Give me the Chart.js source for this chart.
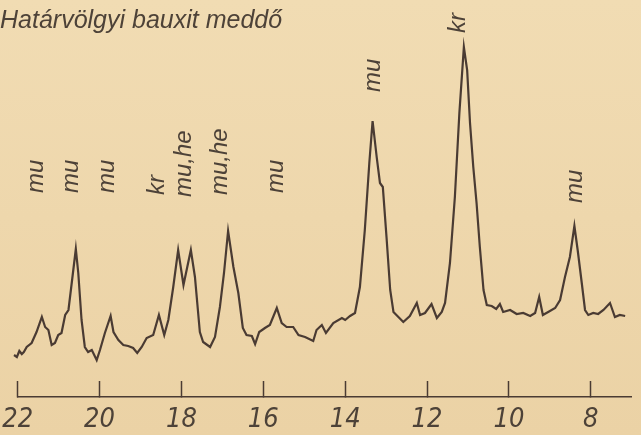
<!DOCTYPE html>
<html>
<head>
<meta charset="utf-8">
<script src="https://cdn.jsdelivr.net/npm/chart.js@4.4.1/dist/chart.umd.min.js"></script>
<style>
  html, body { margin: 0; padding: 0; background: #eed8ad; }
  canvas { display: block; }
</style>
</head>
<body>
<canvas id="c" width="641" height="435"></canvas>
<script>
// 2θ positions (degrees)
const twoTheta = [22.09,22.02,21.96,21.90,21.85,21.78,21.66,21.54,21.41,21.33,21.25,21.17,21.09,21.01,20.93,20.84,20.76,20.68,20.58,20.52,20.44,20.36,20.28,20.19,20.07,19.99,19.87,19.73,19.66,19.54,19.42,19.30,19.18,19.08,18.97,18.85,18.69,18.55,18.42,18.32,18.20,18.08,17.95,17.77,17.67,17.55,17.47,17.30,17.18,17.06,16.96,16.86,16.73,16.61,16.50,16.41,16.28,16.20,16.10,15.96,15.84,15.67,15.55,15.43,15.27,15.14,14.98,14.78,14.70,14.57,14.47,14.29,14.08,14.00,13.88,13.76,13.64,13.52,13.41,13.33,13.23,13.15,13.08,12.99,12.90,12.82,12.70,12.58,12.42,12.25,12.17,12.05,11.89,11.76,11.64,11.56,11.44,11.32,11.21,11.10,11.02,10.95,10.87,10.79,10.71,10.62,10.54,10.42,10.31,10.22,10.14,9.97,9.81,9.65,9.48,9.36,9.26,9.17,9.04,8.87,8.75,8.63,8.51,8.40,8.32,8.22,8.14,8.06,7.94,7.82,7.69,7.53,7.41,7.29,7.16];
// relative intensity (arbitrary units)
const intensity = [42,40,46,43,45,50,54,65,80,70,67,52,54,62,64,82,87,114,148,124,77,50,45,47,37,47,64,81,65,57,52,51,49,44,50,59,62,82,62,77,110,147,112,147,120,65,55,50,60,90,124,166,130,104,69,62,61,53,65,69,72,89,74,70,70,62,60,56,67,72,64,74,79,77,81,84,110,167,234,276,240,214,210,160,107,85,80,75,81,94,82,84,93,79,85,94,134,200,284,350,327,274,230,194,150,107,92,91,88,93,85,87,83,84,81,84,100,82,85,89,97,120,140,171,147,114,87,82,84,83,87,94,80,82,81];
const tickValues = [22,20,18,16,14,12,10,8];
// peak identifications
const peakNames = ['mu','mu','mu','kr','mu,he','mu,he','mu','mu','kr','mu'];
const peakPositions = [21.54,20.68,19.81,18.60,17.94,17.06,15.67,13.31,11.24,8.38];
const labelLevels = [204,204,204,202,200,202,204,305,364,194];
const titleText = 'Határvölgyi bauxit meddő';

const ink = '#4a3b33';
const textInk = '#4d4238';
const narrow = "'Liberation Sans Narrow', 'DejaVu Sans Condensed', 'Liberation Sans', sans-serif";
const sans = "'Liberation Sans', 'DejaVu Sans', sans-serif";

const bgPlugin = {
  id: 'bg',
  beforeDraw(chart) {
    const ctx = chart.ctx;
    const g = ctx.createLinearGradient(0, 0, 0, chart.height);
    g.addColorStop(0, '#f1dcb3');
    g.addColorStop(1, '#ebd2a5');
    ctx.save();
    ctx.fillStyle = g;
    ctx.fillRect(0, 0, chart.width, chart.height);
    ctx.restore();
  }
};

const peakLabelPlugin = {
  id: 'peakLabels',
  afterDatasetsDraw(chart) {
    const ctx = chart.ctx;
    const xs = chart.scales.x, ys = chart.scales.y;
    ctx.save();
    ctx.fillStyle = textInk;
    ctx.font = 'italic 24px ' + sans;
    ctx.textAlign = 'left';
    ctx.textBaseline = 'middle';
    peakNames.forEach((name, i) => {
      const px = xs.getPixelForValue(peakPositions[i]);
      const py = ys.getPixelForValue(labelLevels[i]);
      ctx.save();
      ctx.translate(px, py);
      ctx.rotate(-Math.PI / 2);
      ctx.fillText(name, 0, 0);
      ctx.restore();
    });
    ctx.restore();
  }
};

new Chart(document.getElementById('c'), {
  type: 'line',
  data: {
    datasets: [{
      data: twoTheta.map((t, i) => ({ x: t, y: intensity[i] })),
      borderColor: ink,
      borderWidth: 2.2,
      pointRadius: 0,
      tension: 0,
      fill: false,
      clip: false
    }]
  },
  options: {
    responsive: false,
    devicePixelRatio: 1,
    animation: false,
    layout: { padding: { left: 0, right: 9.3, top: 0, bottom: 0 } },
    plugins: {
      legend: { display: false },
      tooltip: { enabled: false },
      title: {
        display: true,
        text: titleText,
        align: 'start',
        color: textInk,
        font: { family: sans, size: 25, style: 'italic', weight: 'normal', lineHeight: 1.2 },
        padding: { top: 6, bottom: 8 }
      }
    },
    scales: {
      x: {
        type: 'linear',
        reverse: true,
        min: 7,
        max: 22,
        afterBuildTicks: s => { s.ticks = tickValues.map(v => ({ value: v })); },
        afterFit: s => { s.height = 38; s.paddingLeft = 0; s.paddingRight = 0; },
        ticks: {
          color: textInk,
          font: { family: narrow, size: 27, style: 'italic', lineHeight: 1.2 },
          padding: 23,
          maxRotation: 0,
          autoSkip: false,
          callback: v => String(v)
        },
        grid: {
          drawOnChartArea: false,
          drawTicks: true,
          tickLength: -16,
          tickWidth: 1.5,
          tickColor: ink
        },
        border: { display: true, color: ink, width: 1.5 }
      },
      y: {
        type: 'linear',
        min: 0,
        max: 353,
        afterFit: s => { s.width = 17.7; s.paddingTop = 0; s.paddingBottom = 0; },
        ticks: { display: false },
        grid: { display: false },
        border: { display: false }
      }
    }
  },
  plugins: [bgPlugin, peakLabelPlugin]
});
</script>
</body>
</html>
